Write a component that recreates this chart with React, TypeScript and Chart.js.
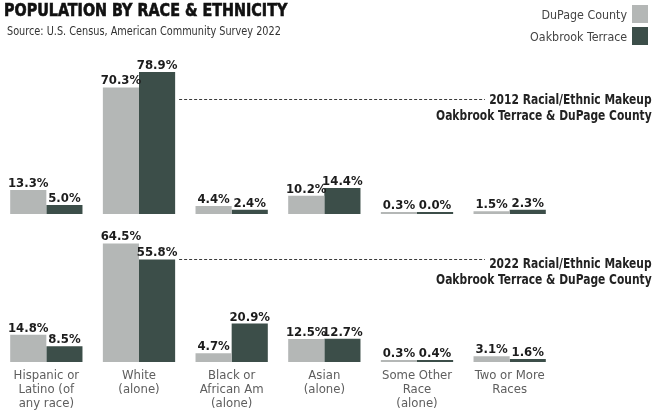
import React, { useEffect, useRef } from "react";
import { Chart, registerables } from "chart.js";

Chart.register(...registerables);

const FONT = "'DejaVu Sans Condensed', 'Liberation Sans Narrow', Roboto, sans-serif";

const categories = [
  ["Hispanic or", "Latino (of", "any race)"],
  ["White", "(alone)"],
  ["Black or", "African Am", "(alone)"],
  ["Asian", "(alone)"],
  ["Some Other", "Race", "(alone)"],
  ["Two or More", "Races"],
];

const seriesNames = ["DuPage County", "Oakbrook Terrace"];
const seriesColors = ["#b4b7b6", "#3c4e49"];

const dupage2012 = [13.3, 70.3, 4.4, 10.2, 0.3, 1.5];
const oakbrook2012 = [5.0, 78.9, 2.4, 14.4, 0.0, 2.3];
const dupage2022 = [14.8, 64.5, 4.7, 12.5, 0.3, 3.1];
const oakbrook2022 = [8.5, 55.8, 20.9, 12.7, 0.4, 1.6];

const panel2012Title = ["2012 Racial/Ethnic Makeup", "Oakbrook Terrace & DuPage County"];
const panel2022Title = ["2022 Racial/Ethnic Makeup", "Oakbrook Terrace & DuPage County"];

const titleText = "POPULATION BY RACE & ETHNICITY";
const sourceText = "Source: U.S. Census, American Community Survey 2022";

// value on each panel's axis where the dotted leader line sits
const leaderValue2012 = 64;
const leaderValue2022 = 55.8;

const valueLabels = {
  id: "valueLabels",
  afterDatasetsDraw(chart: any) {
    const ctx = chart.ctx;
    ctx.save();
    ctx.font = `bold 13px ${FONT}`;
    ctx.fillStyle = "#1c1c1c";
    ctx.textAlign = "center";
    ctx.textBaseline = "alphabetic";
    chart.data.datasets.forEach((ds: any, i: number) => {
      const meta = chart.getDatasetMeta(i);
      meta.data.forEach((bar: any, j: number) => {
        const v = ds.data[j];
        ctx.fillText(v.toFixed(1) + "%", bar.x, bar.y - 3);
      });
    });
    ctx.restore();
  },
};

const leaders = {
  id: "leaders",
  afterDatasetsDraw(chart: any) {
    const ctx = chart.ctx;
    const endX = chart.width - 170;
    const drawLeader = (dsIndex: number, scaleId: string, value: number) => {
      const bar = chart.getDatasetMeta(dsIndex).data[1];
      const x0 = bar.x + bar.width / 2 + 4;
      const y = Math.round(chart.scales[scaleId].getPixelForValue(value)) + 0.5;
      ctx.save();
      ctx.strokeStyle = "#3a3a3a";
      ctx.lineWidth = 1;
      ctx.setLineDash([3, 2]);
      ctx.beginPath();
      ctx.moveTo(x0, y);
      ctx.lineTo(endX, y);
      ctx.stroke();
      ctx.restore();
    };
    drawLeader(1, "y2012", leaderValue2012);
    drawLeader(3, "y2022", leaderValue2022);
  },
};

export default function App() {
  const canvasRef = useRef<HTMLCanvasElement | null>(null);

  useEffect(() => {
    if (!canvasRef.current) return;
    const chart = new Chart(canvasRef.current, {
      type: "bar",
      data: {
        labels: categories,
        datasets: [
          { label: seriesNames[0] + " 2012", data: dupage2012, backgroundColor: seriesColors[0], yAxisID: "y2012", stack: "dupage" },
          { label: seriesNames[1] + " 2012", data: oakbrook2012, backgroundColor: seriesColors[1], yAxisID: "y2012", stack: "oak" },
          { label: seriesNames[0] + " 2022", data: dupage2022, backgroundColor: seriesColors[0], yAxisID: "y2022", stack: "dupage" },
          { label: seriesNames[1] + " 2022", data: oakbrook2022, backgroundColor: seriesColors[1], yAxisID: "y2022", stack: "oak" },
        ],
      },
      options: {
        responsive: false,
        animation: false,
        layout: { padding: { top: 62, right: 99, left: 0, bottom: 0 } },
        datasets: {
          bar: { barPercentage: 1, categoryPercentage: 0.78, minBarLength: 2, borderWidth: 0 },
        },
        plugins: {
          legend: { display: false },
          title: { display: false },
          tooltip: { enabled: false },
        },
        scales: {
          x: {
            grid: { display: false, drawTicks: false },
            border: { display: false },
            ticks: {
              color: "#5e5e5e",
              font: { family: FONT, size: 13, lineHeight: 1.08 },
              padding: 7,
              maxRotation: 0,
              autoSkip: false,
            },
            afterFit(scale: any) {
              scale.height = 49;
            },
          },
          y2022: {
            type: "linear",
            position: "left",
            stack: "panels",
            stackWeight: 148,
            stacked: false,
            min: 0,
            max: 80.5,
            display: false,
          },
          y2012: {
            type: "linear",
            position: "left",
            stack: "panels",
            stackWeight: 152,
            stacked: false,
            min: 0,
            max: 84.4,
            display: false,
          },
        },
      },
      plugins: [valueLabels, leaders],
    } as any);
    return () => chart.destroy();
  }, []);

  const abs = (s: any) => ({ position: "absolute" as const, ...s });

  return (
    <div style={{ position: "absolute", left: 0, top: 0, width: 655, height: 411, background: "#fff", fontFamily: FONT, overflow: "hidden" }}>
      <canvas ref={canvasRef} width={655} height={411} style={{ display: "block", position: "absolute", left: 0, top: 0 }} />
      <div style={abs({ left: 4, top: 0, fontSize: 18, lineHeight: "20px", fontWeight: 700, color: "#111", WebkitTextStroke: "0.6px #111", whiteSpace: "nowrap", transform: "scaleX(0.885)", transformOrigin: "left center" })}>
        {titleText}
      </div>
      <div style={abs({ left: 7, top: 24, fontSize: 12, lineHeight: "14px", color: "#333", whiteSpace: "nowrap", transform: "scaleX(0.9)", transformOrigin: "left center" })}>
        {sourceText}
      </div>
      {seriesNames.map((name, i) => (
        <div key={name} style={abs({ right: 7, top: 5 + i * 22, height: 18, display: "flex", alignItems: "center", gap: 5, whiteSpace: "nowrap" })}>
          <span style={{ fontSize: 13, color: "#444", display: "inline-block", transform: "scaleX(0.95)", transformOrigin: "right center" }}>{name}</span>
          <span style={{ display: "inline-block", width: 16, height: 18, background: seriesColors[i] }} />
        </div>
      ))}
      <div style={abs({ right: 3, top: 91, fontSize: 14, lineHeight: "16px", fontWeight: 700, color: "#222", textAlign: "right", whiteSpace: "nowrap", transform: "scaleX(0.85)", transformOrigin: "right center" })}>
        {panel2012Title.map((t) => (<div key={t}>{t}</div>))}
      </div>
      <div style={abs({ right: 3, top: 255, fontSize: 14, lineHeight: "16px", fontWeight: 700, color: "#222", textAlign: "right", whiteSpace: "nowrap", transform: "scaleX(0.85)", transformOrigin: "right center" })}>
        {panel2022Title.map((t) => (<div key={t}>{t}</div>))}
      </div>
    </div>
  );
}
